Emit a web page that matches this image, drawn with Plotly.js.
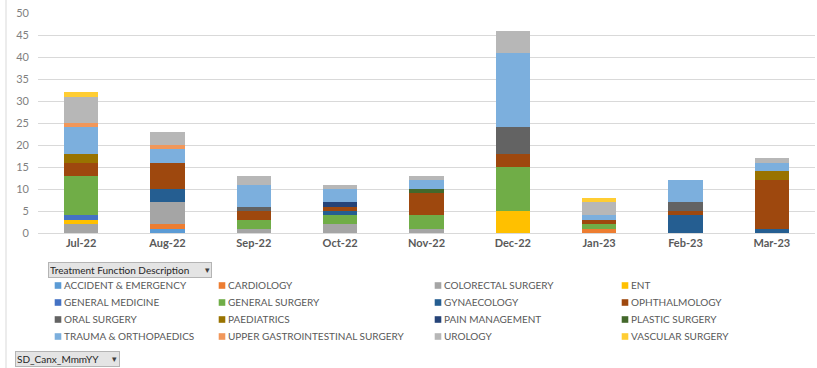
<!DOCTYPE html>
<html>
<head>
<meta charset="utf-8">
<script src="https://cdn.plot.ly/plotly-3.0.1.min.js"></script>
<style>
  html, body { margin: 0; padding: 0; background: #ffffff; }
  #chart { width: 817px; height: 368px; }
</style>
</head>
<body>
<div id="chart"></div>
<script>
// Cancellations by month, stacked by treatment function
const months = ['Jul-22', 'Aug-22', 'Sep-22', 'Oct-22', 'Nov-22', 'Dec-22', 'Jan-23', 'Feb-23', 'Mar-23'];

const accidentEmergency   = [0, 1, 0, 0, 0, 0, 0, 0, 0];
const cardiology          = [0, 1, 0, 0, 0, 0, 1, 0, 0];
const colorectalSurgery   = [2, 5, 1, 2, 1, 0, 0, 0, 0];
const ent                 = [1, 0, 0, 0, 0, 5, 0, 0, 0];
const generalMedicine     = [1, 0, 0, 0, 0, 0, 0, 0, 0];
const generalSurgery      = [9, 0, 2, 2, 3, 10, 1, 0, 0];
const gynaecology         = [0, 3, 0, 1, 0, 0, 0, 4, 1];
const ophthalmology       = [3, 6, 2, 1, 5, 3, 1, 1, 11];
const oralSurgery         = [0, 0, 1, 0, 0, 6, 0, 2, 0];
const paediatrics         = [2, 0, 0, 0, 0, 0, 0, 0, 2];
const painManagement      = [0, 0, 0, 1, 0, 0, 0, 0, 0];
const plasticSurgery      = [0, 0, 0, 0, 1, 0, 0, 0, 0];
const traumaOrthopaedics  = [6, 3, 5, 3, 2, 17, 1, 5, 2];
const upperGISurgery      = [1, 1, 0, 0, 0, 0, 0, 0, 0];
const urology             = [6, 3, 2, 1, 1, 5, 3, 0, 1];
const vascularSurgery     = [1, 0, 0, 0, 0, 0, 1, 0, 0];

const seriesNames = [
  'ACCIDENT & EMERGENCY', 'CARDIOLOGY', 'COLORECTAL SURGERY', 'ENT',
  'GENERAL MEDICINE', 'GENERAL SURGERY', 'GYNAECOLOGY', 'OPHTHALMOLOGY',
  'ORAL SURGERY', 'PAEDIATRICS', 'PAIN MANAGEMENT', 'PLASTIC SURGERY',
  'TRAUMA & ORTHOPAEDICS', 'UPPER GASTROINTESTINAL SURGERY', 'UROLOGY', 'VASCULAR SURGERY'
];
const seriesValues = [
  accidentEmergency, cardiology, colorectalSurgery, ent,
  generalMedicine, generalSurgery, gynaecology, ophthalmology,
  oralSurgery, paediatrics, painManagement, plasticSurgery,
  traumaOrthopaedics, upperGISurgery, urology, vascularSurgery
];
const seriesColors = [
  '#5B9BD5', '#ED7D31', '#A5A5A5', '#FFC000',
  '#4472C4', '#70AD47', '#255E91', '#9E480E',
  '#636363', '#997300', '#264478', '#43682B',
  '#7CAFDD', '#F1975A', '#B7B7B7', '#FFCD33'
];

// Plot area in pixels (used to place legend columns and pivot buttons)
const W = 817, H = 368;
const M = { l: 38, r: 2, t: 13, b: 135 };
const PW = W - M.l - M.r, PH = H - M.t - M.b;
const px = x => (x - M.l) / PW;
const py = y => (H - M.b - y) / PH;

// Four legend columns, filled row by row
const legendIds = ['legend', 'legend2', 'legend3', 'legend4'];
const legendTextX = [64, 228, 444, 631];
const legendRowStep = 17;

const traces = seriesNames.map((name, i) => ({
  type: 'bar',
  name: name,
  x: months,
  y: seriesValues[i],
  marker: { color: seriesColors[i] },
  legend: legendIds[i % 4],
  hovertemplate: '%{x}<br>' + name + ': %{y}<extra></extra>'
}));

const legendBase = {
  orientation: 'v',
  traceorder: 'normal',
  yanchor: 'top',
  xanchor: 'left',
  y: py(271),
  bgcolor: 'rgba(0,0,0,0)',
  itemwidth: 30,
  tracegroupgap: 0,
  font: { family: 'Lato, sans-serif', size: 10, color: '#595959' }
};

const layout = {
  width: W,
  height: H,
  margin: M,
  paper_bgcolor: '#ffffff',
  plot_bgcolor: '#ffffff',
  barmode: 'stack',
  bargap: 0.6,
  showlegend: true,
  xaxis: {
    type: 'category',
    showgrid: false,
    showline: true,
    linecolor: '#d9d9d9',
    linewidth: 1,
    ticks: '',
    tickfont: { family: 'Lato, sans-serif', size: 11, color: '#595959', weight: 700 },
    fixedrange: true
  },
  yaxis: {
    range: [0, 50],
    dtick: 5,
    showgrid: true,
    gridcolor: '#d9d9d9',
    gridwidth: 1,
    zeroline: false,
    showline: false,
    ticks: '',
    ticklabelstandoff: 8,
    tickfont: { family: 'Lato, sans-serif', size: 11, color: '#7f7f7f' },
    fixedrange: true
  },
  shapes: [
    {
      type: 'line', xref: 'paper', yref: 'paper',
      x0: px(6), x1: px(6), y0: py(H), y1: py(0),
      line: { color: '#d9d9d9', width: 1 }
    }
  ],
  annotations: [
    {
      xref: 'paper', yref: 'paper', x: px(48), y: py(262),
      xanchor: 'left', yanchor: 'top',
      text: 'Treatment Function Description', showarrow: false,
      width: 160, align: 'left',
      font: { family: 'Lato, sans-serif', size: 10, color: '#262626' },
      bgcolor: '#e4e4e4', bordercolor: '#b4b4b4', borderwidth: 1, borderpad: 1
    },
    {
      xref: 'paper', yref: 'paper', x: px(207), y: py(270),
      xanchor: 'center', yanchor: 'middle',
      text: '▾', showarrow: false,
      font: { family: 'DejaVu Sans, sans-serif', size: 9, color: '#404040' }
    },
    {
      xref: 'paper', yref: 'paper', x: px(15), y: py(351),
      xanchor: 'left', yanchor: 'top',
      text: 'SD_Canx_MmmYY', showarrow: false,
      width: 101, align: 'left',
      font: { family: 'Lato, sans-serif', size: 10, color: '#262626' },
      bgcolor: '#e4e4e4', bordercolor: '#b4b4b4', borderwidth: 1, borderpad: 1
    },
    {
      xref: 'paper', yref: 'paper', x: px(114), y: py(359),
      xanchor: 'center', yanchor: 'middle',
      text: '▾', showarrow: false,
      font: { family: 'DejaVu Sans, sans-serif', size: 9, color: '#404040' }
    }
  ]
};

legendIds.forEach((id, k) => {
  layout[id] = Object.assign({}, legendBase, { x: px(legendTextX[k] - 40) });
});

Plotly.newPlot('chart', traces, layout, { displayModeBar: false, responsive: false })
  .then(gd => {
    // Smaller swatches sitting close to their labels
    gd.querySelectorAll('.legendpoints path').forEach(p => {
      p.setAttribute('transform', 'translate(34,0) scale(0.55)');
    });
    // Tighter row spacing inside each legend column
    const legendGroups = Array.from(gd.querySelectorAll('g')).filter(g =>
      /^legend\d*$/.test(g.getAttribute('class') || ''));
    legendGroups.forEach(lg => {
      const items = Array.from(lg.querySelectorAll('g.traces'));
      if (!items.length) return;
      const m0 = /translate\(\s*([-\d.]+)[ ,]+([-\d.]+)\s*\)/.exec(items[0].getAttribute('transform') || '');
      if (!m0) return;
      const x0 = parseFloat(m0[1]), y0 = parseFloat(m0[2]);
      items.forEach((it, r) => {
        it.setAttribute('transform', 'translate(' + x0 + ',' + (y0 + r * legendRowStep) + ')');
      });
    });
  });
</script>
</body>
</html>
